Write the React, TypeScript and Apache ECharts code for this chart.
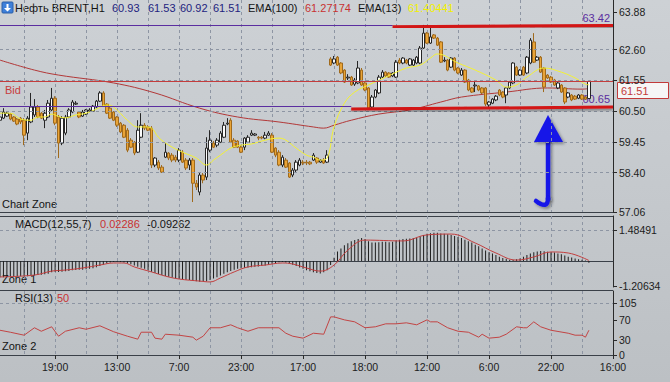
import { useEffect, useRef } from 'react';
import * as echarts from 'echarts';

// ---------- axis / labels ----------
const timeLabels = ['19:00', '13:00', '7:00', '23:00', '17:00', '18:00', '12:00', '6:00', '22:00', '16:00'];
const slotCount = 179;
const firstLabelSlot = 16;
const labelStep = 18;
const gridStep = 9;

const priceTicks = [57.06, 58.4, 59.45, 60.5, 61.55, 62.6, 63.88];
const priceMin = 57.06;
const priceMax = 64.29;
const macdTicks = [-1.20634, 1.48491];
const macdMin = -1.254;
const macdMax = 2.158;
const rsiTicks = [0, 30, 70, 105];
const rsiMin = 0;
const rsiMax = 129.3;

// ---------- levels ----------
const bidPrice = 61.51;
const levelHigh = 63.42;
const levelLow = 60.65;
const resistance = [[114, 63.38], [178, 63.42]];
const support = [[102, 60.57], [178, 60.64]];

// ---------- candles: [open, close, low, high] ----------
const candles = [
  [60.19, 60.30, 60.16, 60.37], [60.26, 60.47, 60.23, 60.60], [60.33, 60.43, 60.30, 60.47], [60.40, 60.23, 60.19, 60.43],
  [60.30, 60.16, 60.13, 60.33], [60.23, 60.06, 60.02, 60.26], [60.26, 60.13, 60.06, 60.30], [60.19, 59.68, 59.34, 60.26],
  [59.75, 60.26, 59.51, 60.33], [60.13, 60.64, 60.09, 61.12], [60.37, 60.64, 60.30, 60.91], [60.64, 60.30, 60.26, 60.71],
  [60.43, 60.26, 60.23, 60.47], [60.19, 60.43, 59.92, 60.54], [60.30, 60.77, 60.26, 60.88], [60.54, 60.94, 60.50, 61.29],
  [60.94, 60.09, 60.02, 61.01], [60.30, 59.41, 58.90, 60.37], [59.41, 60.26, 59.34, 60.33], [59.75, 60.30, 59.68, 60.37],
  [60.30, 60.54, 60.26, 60.60], [60.47, 60.81, 60.43, 60.88], [60.74, 60.77, 60.71, 60.84], [60.47, 60.30, 60.26, 60.50],
  [60.33, 60.47, 60.30, 60.54], [60.40, 60.54, 60.37, 60.57], [60.50, 60.54, 60.47, 60.60], [60.50, 60.67, 60.47, 60.71],
  [60.64, 60.84, 60.60, 60.88], [60.84, 61.12, 60.81, 61.18], [61.12, 60.67, 60.64, 61.18], [60.74, 60.43, 60.40, 60.77],
  [60.60, 60.26, 60.23, 60.64], [60.47, 60.19, 60.16, 60.50], [60.30, 60.02, 59.96, 60.33], [60.09, 59.79, 59.75, 60.13],
  [60.02, 59.61, 59.58, 60.06], [59.85, 59.17, 59.10, 59.92], [59.51, 59.27, 59.24, 59.58], [59.44, 59.07, 59.00, 59.48],
  [59.10, 59.85, 59.07, 60.19], [59.61, 60.02, 59.58, 60.43], [60.02, 59.92, 59.85, 60.09], [59.96, 59.85, 59.82, 60.02],
  [59.92, 58.66, 58.56, 59.99], [58.66, 58.90, 58.59, 58.93], [58.76, 58.56, 58.49, 58.83], [58.59, 58.42, 58.39, 58.66],
  [58.93, 59.10, 58.90, 59.41], [59.07, 58.90, 58.83, 59.10], [59.00, 58.83, 58.76, 59.07], [58.93, 58.83, 58.76, 59.00],
  [58.83, 59.17, 58.76, 59.24], [59.10, 58.76, 58.73, 59.17], [58.83, 58.56, 58.49, 58.90], [58.66, 58.83, 58.49, 58.90],
  [58.83, 58.04, 57.40, 58.90], [58.04, 57.91, 57.81, 58.15], [57.74, 58.32, 57.63, 58.39], [58.32, 58.15, 58.04, 58.39],
  [58.25, 59.24, 58.15, 59.61], [59.17, 59.51, 59.10, 59.85], [59.41, 59.27, 59.24, 59.48], [59.34, 59.51, 59.27, 59.58],
  [59.44, 59.75, 59.41, 59.82], [59.61, 60.02, 59.58, 60.13], [60.06, 60.09, 60.02, 60.26], [60.19, 59.44, 59.41, 60.26],
  [59.51, 59.27, 59.24, 59.58], [59.48, 59.27, 59.24, 59.51], [59.27, 59.10, 59.07, 59.34], [59.27, 59.58, 59.17, 59.61],
  [59.44, 59.61, 59.41, 59.68], [59.68, 59.75, 59.65, 59.85], [59.68, 59.72, 59.65, 59.75], [59.61, 59.58, 59.51, 59.65],
  [59.61, 59.58, 59.54, 59.65], [59.58, 59.68, 59.54, 59.79], [59.68, 59.75, 59.65, 59.82], [59.68, 59.10, 59.07, 59.75],
  [59.24, 59.00, 58.93, 59.27], [59.10, 58.66, 58.62, 59.17], [58.66, 58.93, 58.59, 59.00], [58.83, 58.59, 58.56, 58.90],
  [58.73, 58.25, 58.22, 58.76], [58.32, 58.49, 58.25, 58.56], [58.49, 58.76, 58.42, 58.83], [58.66, 58.83, 58.62, 58.90],
  [58.76, 58.73, 58.66, 58.83], [58.76, 58.73, 58.66, 58.83], [58.76, 58.70, 58.66, 58.80], [58.83, 59.00, 58.80, 59.07],
  [58.90, 58.76, 58.70, 58.93], [58.76, 58.83, 58.73, 58.86], [58.83, 58.73, 58.70, 58.90], [58.76, 59.00, 58.73, 59.17],
  [62.28, 62.07, 62.04, 62.34], [62.14, 62.28, 62.10, 62.38], [62.34, 62.07, 62.04, 62.38], [62.14, 61.80, 61.76, 62.17],
  [61.90, 61.49, 61.46, 61.93], [61.63, 61.66, 61.56, 61.76], [61.66, 61.39, 61.36, 61.70], [61.42, 61.56, 61.36, 61.63],
  [61.46, 61.97, 61.42, 62.21], [61.90, 61.39, 61.36, 61.97], [61.46, 61.22, 61.18, 61.49], [61.29, 60.60, 60.54, 61.32],
  [60.64, 60.98, 60.60, 61.05], [60.98, 61.22, 60.94, 61.25], [61.12, 61.66, 61.08, 61.73], [61.66, 61.83, 61.63, 61.90],
  [61.83, 61.70, 61.66, 61.86], [61.80, 61.66, 61.63, 61.83], [61.70, 61.80, 61.66, 61.83], [61.66, 62.17, 61.63, 62.24],
  [62.24, 62.14, 62.10, 62.31], [62.14, 62.31, 62.10, 62.34], [62.24, 62.14, 62.10, 62.28], [62.07, 62.28, 62.04, 62.31],
  [62.07, 62.24, 62.04, 62.28], [62.14, 62.34, 62.10, 62.38], [62.14, 62.65, 62.10, 62.72], [62.65, 63.16, 62.62, 63.44],
  [63.16, 62.82, 62.79, 63.20], [62.82, 63.03, 62.79, 63.37], [63.10, 62.99, 62.96, 63.13], [62.99, 62.75, 62.72, 63.03],
  [62.86, 62.17, 62.14, 62.89], [62.21, 62.24, 62.17, 62.34], [62.24, 61.90, 61.86, 62.28], [62.00, 62.31, 61.97, 62.34],
  [62.31, 61.90, 61.86, 62.34], [61.97, 61.80, 61.76, 62.00], [61.73, 61.90, 61.70, 61.97], [61.90, 61.49, 61.46, 61.93],
  [61.56, 61.22, 61.18, 61.60], [61.29, 61.15, 61.12, 61.32], [61.36, 61.39, 61.15, 61.56], [61.36, 61.22, 61.18, 61.39],
  [61.29, 61.12, 61.08, 61.32], [61.29, 60.74, 60.67, 61.32], [60.71, 60.81, 60.64, 60.84], [60.77, 60.91, 60.74, 60.94],
  [60.88, 61.01, 60.84, 61.05], [61.22, 61.05, 61.01, 61.25], [61.15, 60.98, 60.94, 61.18], [61.05, 61.29, 60.77, 61.32],
  [61.29, 61.49, 61.25, 61.53], [61.46, 62.14, 61.42, 62.17], [62.00, 61.73, 61.70, 62.04], [61.73, 61.90, 61.70, 61.93],
  [62.00, 61.73, 61.70, 62.04], [61.80, 62.34, 61.76, 62.38], [62.14, 62.92, 62.10, 62.99], [62.86, 62.17, 62.14, 63.16],
  [62.24, 62.34, 62.21, 62.38], [62.34, 61.83, 61.80, 62.38], [61.97, 61.32, 61.15, 62.00], [61.73, 61.63, 61.60, 61.76],
  [61.66, 61.49, 61.46, 61.70], [61.56, 61.39, 61.36, 61.60], [61.29, 61.46, 61.25, 61.49], [61.39, 61.15, 61.12, 61.42],
  [61.29, 60.81, 60.74, 61.32], [60.98, 61.12, 60.94, 61.15], [61.05, 60.88, 60.84, 61.08], [61.01, 60.91, 60.88, 61.05],
  [60.94, 61.05, 60.91, 61.08], [61.05, 60.91, 60.88, 61.08], [60.98, 60.91, 60.88, 61.01], [60.93, 61.51, 60.92, 61.53],
];

// ---------- indicators: [bar index, value] ----------
const ema13 = [
  [0, 60.43], [3, 60.43], [6, 60.23], [9, 60.19], [11, 60.30], [13, 60.30], [15, 60.40], [17, 60.32], [19, 60.27],
  [22, 60.37], [25, 60.43], [28, 60.57], [31, 60.71], [33, 60.64], [37, 60.19], [40, 59.96], [42, 59.96], [44, 59.92],
  [46, 59.61], [49, 59.34], [53, 59.10], [57, 58.90], [60, 58.66], [62, 58.83], [64, 59.00], [67, 59.24], [70, 59.34],
  [73, 59.38], [77, 59.51], [81, 59.58], [83, 59.51], [86, 59.24], [89, 59.00], [91, 58.93], [93, 58.83], [95, 58.90],
  [97, 59.96], [100, 60.77], [103, 61.15], [107, 61.39], [112, 61.66], [118, 61.97], [122, 62.07], [125, 62.31],
  [127, 62.45], [133, 62.14], [138, 61.90], [144, 61.56], [147, 61.32], [150, 61.39], [153, 61.66], [158, 61.97],
  [163, 61.83], [167, 61.63], [170, 61.42], [171, 61.40],
];
const ema100 = [
  [0, 62.24], [10, 61.90], [17, 61.73], [33, 61.46], [45, 61.12], [58, 60.60], [69, 60.30], [81, 60.13], [91, 59.96],
  [94, 59.92], [97, 60.02], [102, 60.19], [110, 60.40], [119, 60.54], [128, 60.81], [134, 60.98], [147, 61.15],
  [159, 61.29], [169, 61.25], [171, 61.27],
];
const macdHist = [
  -0.78, -0.78, -0.77, -0.76, -0.76, -0.75, -0.74, -0.75, -0.74, -0.72, -0.70, -0.68,
  -0.66, -0.64, -0.62,
  -0.55, -0.52, -0.53, -0.52, -0.50, -0.48, -0.45, -0.44, -0.43, -0.42, -0.40, -0.38, -0.35, -0.30, -0.25,
  -0.18, -0.12, -0.08, -0.05, -0.04, -0.05, -0.08, -0.12, -0.16,
  -0.22, -0.28, -0.33, -0.38, -0.44, -0.52, -0.58, -0.63, -0.68, -0.72,
  -0.76, -0.80, -0.84, -0.86, -0.88, -0.90, -0.92, -0.95, -0.98, -1.00, -1.00, -0.98,
  -0.92, -0.85, -0.78, -0.70, -0.62, -0.55, -0.48, -0.42,
  -0.38, -0.35, -0.33, -0.32, -0.30, -0.28, -0.27, -0.25, -0.22, -0.18, -0.14,
  -0.10, -0.06, -0.05, -0.08, -0.12, -0.18,
  -0.25, -0.32, -0.38, -0.45, -0.50, -0.55, -0.58, -0.60, -0.55, -0.45,
  -0.20, 0.15, 0.45,
  0.60, 0.75, 0.85, 0.95, 1.00,
  1.05, 1.10, 1.05, 0.95,
  0.88, 0.88, 0.90, 0.92, 0.92, 0.90, 0.92, 0.98, 1.02, 1.05, 1.06,
  1.08, 1.10, 1.12, 1.18, 1.25, 1.30, 1.33,
  1.35, 1.35, 1.32, 1.30, 1.28, 1.25,
  1.20, 1.15, 1.10, 1.02, 0.95, 0.88,
  0.78, 0.70, 0.60, 0.50, 0.42, 0.35,
  0.28, 0.20, 0.14, 0.10, 0.06, 0.05, 0.08, 0.12,
  0.20, 0.28, 0.35, 0.42, 0.45,
  0.48, 0.46, 0.44, 0.42, 0.40, 0.36, 0.32,
  0.26, 0.20, 0.16, 0.12, 0.08, 0.05, 0.02, -0.09,
];
const macdSignal = [
  [0, -0.77], [10, -0.68], [15, -0.49], [19, -0.44], [24, -0.34], [29, -0.20], [33, -0.10], [36, -0.10], [39, -0.29],
  [44, -0.53], [48, -0.73], [52, -0.87], [58, -0.97], [61, -1.01], [64, -0.82], [68, -0.53], [72, -0.29], [77, -0.20],
  [82, -0.10], [85, -0.15], [89, -0.34], [93, -0.49], [97, -0.20], [101, 0.52], [106, 1.00], [117, 0.96], [124, 1.25],
  [131, 1.29], [138, 0.86], [144, 0.38], [150, 0.04], [155, 0.19], [160, 0.43], [165, 0.38], [171, 0.02],
];
const rsi = [
  [0, 50], [3, 46], [7, 40], [10, 55], [12, 48], [15, 57], [17, 38], [19, 48], [23, 55], [25, 52], [29, 59], [33, 47],
  [37, 38], [40, 32], [41, 46], [44, 46], [45, 34], [47, 32], [48, 42], [52, 40], [56, 36], [57, 30], [59, 38], [61, 55],
  [64, 55], [67, 61], [69, 55], [72, 48], [75, 55], [81, 55], [83, 44], [85, 38], [88, 34], [91, 44], [94, 42], [96, 77],
  [97, 77], [100, 71], [103, 67], [106, 55], [109, 57], [112, 63], [115, 63], [118, 65], [121, 61], [124, 71], [125, 67],
  [127, 67], [130, 55], [133, 48], [136, 46], [139, 36], [140, 42], [142, 34], [145, 36], [147, 42], [150, 57], [152, 55],
  [153, 55], [155, 67], [157, 57], [160, 50], [165, 44], [167, 40], [169, 40], [170, 36], [171, 50],
];

// ---------- header / legend values ----------
const symbolName = 'Нефть BRENT,H1';
const ohlcText = ['60.93', '61.53', '60.92', '61.51'];
const ema100Text = '61.27174';
const ema13Text = '61.40441';
const macdText = ['0.02286', '-0.09262'];
const rsiText = '50';

const FONT = "'Liberation Sans', Arial, sans-serif";
const categories = Array.from({ length: slotCount }, (_, i) => String(i));
const isLabelSlot = (i: number) => i >= firstLabelSlot && (i - firstLabelSlot) % labelStep === 0;
const isGridSlot = (i: number) => i >= firstLabelSlot - gridStep && (i - (firstLabelSlot - gridStep)) % gridStep === 0;
const labelFor = (i: number) => (isLabelSlot(i) ? timeLabels[(i - firstLabelSlot) / labelStep] ?? '' : '');

const dashed = { color: '#8d95a3', type: [3, 3] as any, width: 1 };

function xAxis(gi: number, showLabels: boolean) {
  return {
    type: 'category',
    gridIndex: gi,
    data: categories,
    boundaryGap: false,
    axisLine: { show: true, lineStyle: { color: '#3a4048', width: 1 } },
    axisTick: { show: showLabels, interval: (i: number) => isLabelSlot(i), length: 4, lineStyle: { color: '#2a2a2a' } },
    axisLabel: {
      show: showLabels,
      interval: (i: number) => isLabelSlot(i),
      formatter: (_v: string, i: number) => labelFor(i),
      color: '#1c1c1c',
      fontSize: 10.5,
      fontFamily: FONT,
      margin: 6,
    },
    splitLine: { show: true, interval: (i: number) => isGridSlot(i), lineStyle: dashed },
  };
}

function yAxis(gi: number, min: number, max: number, ticks: number[], digits: number) {
  return {
    type: 'value',
    gridIndex: gi,
    position: 'right',
    min,
    max,
    axisLine: { show: true, lineStyle: { color: '#2a2a2a', width: 1 } },
    axisTick: { show: true, customValues: ticks, length: 4, lineStyle: { color: '#2a2a2a' } },
    axisLabel: {
      customValues: ticks,
      formatter: (v: number) => v.toFixed(digits),
      color: '#1c1c1c',
      fontSize: 10.5,
      fontFamily: FONT,
      margin: 6,
    },
    splitLine: { show: false },
  };
}

function txt(text: string, x: number, y: number, fill: string, size = 11, align = 'left') {
  return {
    type: 'text',
    x,
    y,
    silent: true,
    style: { text, fill, font: `${size}px ${FONT}`, verticalAlign: 'middle', align },
  };
}

const thinLine = (color: string) => ({ color, width: 1, type: 'solid' });
const arrowShadow = { shadowColor: 'rgba(0,0,0,0.35)', shadowBlur: 3, shadowOffsetX: 2, shadowOffsetY: 2 };

export default function App() {
  const ref = useRef<HTMLDivElement>(null);
  useEffect(() => {
    document.body.style.margin = '0';
    const chart = echarts.init(ref.current as HTMLDivElement, null, { renderer: 'svg', width: 670, height: 382 });
    const grids = [
      { left: 0, top: 0, width: 613, height: 212 },
      { left: 0, top: 216, width: 613, height: 71 },
      { left: 0, top: 291, width: 613, height: 64 },
    ].map((g) => ({ ...g, containLabel: false, outerBoundsMode: 'none', show: false }));

    const option: any = {
      animation: false,
      grid: grids,
      xAxis: [xAxis(0, false), xAxis(1, false), xAxis(2, true)],
      yAxis: [
        yAxis(0, priceMin, priceMax, priceTicks, 2),
        yAxis(1, macdMin, macdMax, macdTicks, 5),
        yAxis(2, rsiMin, rsiMax, rsiTicks, 0),
      ],
      series: [
        {
          type: 'line',
          name: 'EMA(100)',
          xAxisIndex: 0,
          yAxisIndex: 0,
          data: ema100,
          smooth: 0.4,
          symbol: 'none',
          z: 2,
          lineStyle: { color: '#b23838', width: 1 },
          markLine: {
            silent: true,
            symbol: ['none', 'none'],
            label: { show: false },
            data: [
              ...priceTicks.slice(1, -1).map((v) => ({ yAxis: v, lineStyle: dashed })),
              { yAxis: bidPrice, lineStyle: thinLine('#c43c3c') },
              [{ coord: [0, levelHigh], lineStyle: thinLine('#5b2ea0') }, { coord: [resistance[0][0], levelHigh] }],
              [{ coord: [0, levelLow], lineStyle: thinLine('#5b2ea0') }, { coord: [support[0][0], levelLow] }],
            ],
          },
        },
        {
          type: 'candlestick',
          name: 'BRENT',
          xAxisIndex: 0,
          yAxisIndex: 0,
          data: candles,
          barWidth: 3,
          z: 3,
          itemStyle: {
            color: '#fbfbfb',
            color0: '#e9a437',
            borderColor: '#262626',
            borderColor0: '#a06a1c',
            borderWidth: 1,
          },
        },
        {
          type: 'line',
          name: 'EMA(13)',
          xAxisIndex: 0,
          yAxisIndex: 0,
          data: ema13,
          smooth: 0.4,
          symbol: 'none',
          z: 4,
          lineStyle: { color: '#f4f232', width: 1 },
          markLine: {
            silent: true,
            symbol: ['none', 'none'],
            label: { show: false },
            lineStyle: {
              color: '#d31212',
              width: 3,
              type: 'solid',
              shadowColor: 'rgba(0,0,0,0.35)',
              shadowBlur: 2,
              shadowOffsetY: 2,
            },
            data: [
              [{ coord: resistance[0] }, { coord: resistance[1] }],
              [{ coord: support[0] }, { coord: support[1] }],
            ],
          },
        },
        {
          type: 'bar',
          name: 'MACD',
          xAxisIndex: 1,
          yAxisIndex: 1,
          data: macdHist,
          barWidth: 1,
          itemStyle: { color: '#1e1e1e' },
          markLine: {
            silent: true,
            symbol: ['none', 'none'],
            label: { show: false },
            data: [{ yAxis: macdTicks[1], lineStyle: dashed }],
          },
        },
        {
          type: 'line',
          name: 'Signal',
          xAxisIndex: 1,
          yAxisIndex: 1,
          data: macdSignal,
          smooth: 0.4,
          symbol: 'none',
          lineStyle: { color: '#c23e3e', width: 1 },
        },
        {
          type: 'line',
          name: 'RSI',
          xAxisIndex: 2,
          yAxisIndex: 2,
          data: rsi,
          symbol: 'none',
          lineStyle: { color: '#c24444', width: 1 },
          markLine: {
            silent: true,
            symbol: ['none', 'none'],
            label: { show: false },
            data: [{ yAxis: rsiTicks[3], lineStyle: dashed }],
          },
        },
      ],
      graphic: [
        // header
        {
          type: 'rect',
          shape: { x: 2, y: 2, width: 11, height: 11, r: 1 },
          style: { fill: '#3d7fd9', stroke: '#2a5fa8', lineWidth: 1 },
          silent: true,
        },
        {
          type: 'polygon',
          shape: { points: [[6.5, 4], [8.5, 4], [8.5, 8], [11, 8], [7.5, 11.5], [4, 8], [6.5, 8]] },
          style: { fill: '#ffffff' },
          silent: true,
        },
        txt(symbolName, 15, 8, '#141414'),
        txt(ohlcText[0], 112, 8, '#23237e'),
        txt(ohlcText[1], 148, 8, '#23237e'),
        txt(ohlcText[2], 180, 8, '#23237e'),
        txt(ohlcText[3], 213, 8, '#23237e'),
        txt('EMA(100)', 248, 8, '#141414'),
        txt(ema100Text, 305, 8, '#c83232'),
        txt('EMA(13)', 358, 8, '#141414'),
        txt(ema13Text, 408, 8, '#f2f000'),
        // main pane texts
        txt('Bid', 5, 90, '#c83c3c'),
        txt(String(levelHigh.toFixed(2)), 610, 18, '#5b2ea0', 11, 'right'),
        txt(String(levelLow.toFixed(2)), 610, 99, '#5b2ea0', 11, 'right'),
        txt('Chart Zone', 2, 204, '#141414'),
        // bid price tag
        {
          type: 'rect',
          shape: { x: 617.5, y: 82.5, width: 51, height: 16 },
          style: { fill: '#f6f6f6', stroke: '#c23a3a', lineWidth: 1 },
          silent: true,
        },
        txt(bidPrice.toFixed(2), 621, 91, '#c23a3a'),
        // pane separators
        { type: 'line', shape: { x1: 0, y1: 216.5, x2: 613, y2: 216.5 }, style: { stroke: '#3a4048', lineWidth: 1 }, silent: true },
        { type: 'line', shape: { x1: 0, y1: 290.5, x2: 613, y2: 290.5 }, style: { stroke: '#3a4048', lineWidth: 1 }, silent: true },
        // MACD / RSI legends
        txt('MACD(12,55,7)', 15, 224, '#141414'),
        txt(macdText[0], 100, 224, '#c83232'),
        txt(macdText[1], 147, 224, '#141414'),
        txt('Zone 1', 2, 279, '#141414'),
        txt('RSI(13)', 15, 298, '#141414'),
        txt(rsiText, 57, 298, '#c83232'),
        txt('Zone 2', 2, 346, '#141414'),
        // blue arrow
        {
          type: 'rect',
          silent: true,
          shape: { x: 545.8, y: 138, width: 4.5, height: 62 },
          style: { fill: '#1515e8', ...arrowShadow },
        },
        {
          type: 'bezierCurve',
          silent: true,
          shape: { x1: 548, y1: 198, x2: 536, y2: 201, cpx1: 548, cpy1: 210 },
          style: { stroke: '#1515e8', lineWidth: 4.5, fill: null, lineCap: 'round', ...arrowShadow },
        },
        {
          type: 'polygon',
          silent: true,
          shape: { points: [[548, 115], [534, 142], [563, 142]] },
          style: { fill: '#1515e8', ...arrowShadow },
        },
      ],
    };
    chart.setOption(option);
    return () => chart.dispose();
  }, []);
  return (
    <div
      ref={ref}
      style={{
        position: 'fixed',
        left: 0,
        top: 0,
        width: 670,
        height: 382,
        background: 'linear-gradient(180deg, #cdd1d5 0%, #c3c7cb 60%, #bcc0c4 100%)',
      }}
    />
  );
}
